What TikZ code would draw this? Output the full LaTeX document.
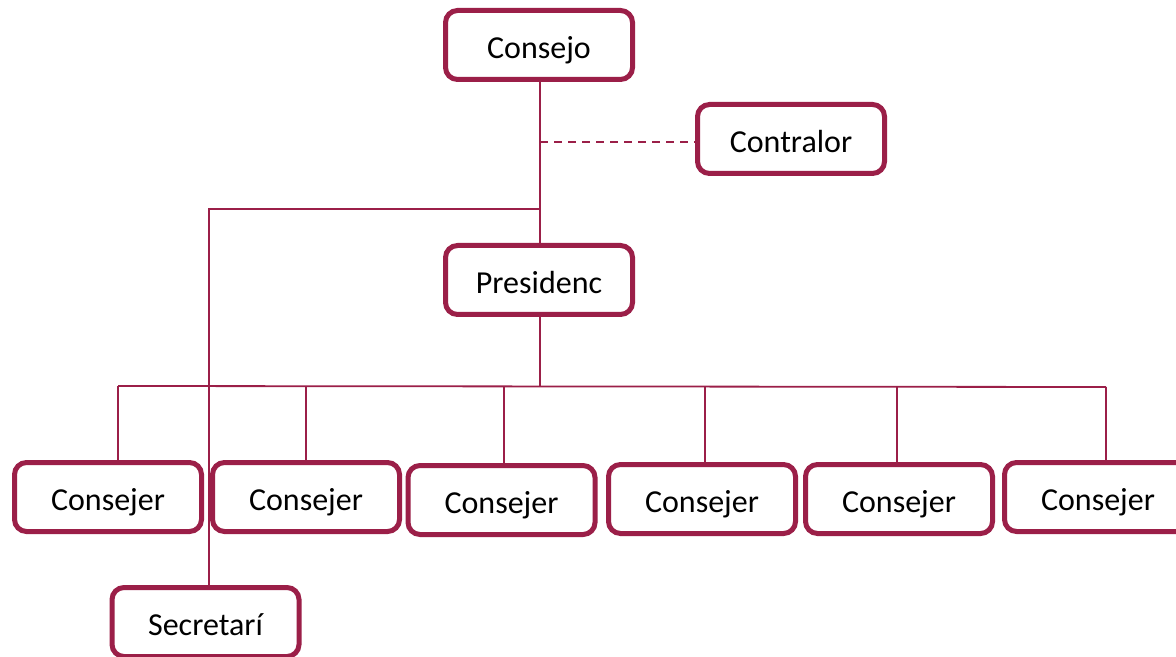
\documentclass[tikz,border=0pt]{standalone}
\usepackage{fontspec}
\setmainfont{Carlito}
\definecolor{maroon}{RGB}{155,31,72}
\begin{document}
\begin{tikzpicture}[x=0.5pt,y=-0.5pt,
  box/.style={draw=maroon, line width=2.5pt, rounded corners=6pt, fill=white,
    minimum width=93.5pt, minimum height=34.5pt, inner sep=0pt,
    text height=16pt, text depth=2.4pt,
    font=\fontsize{16pt}{19pt}\selectfont},
  link/.style={draw=maroon, line width=0.9pt},
  dotlink/.style={draw=maroon, line width=0.9pt, dash pattern=on 4pt off 3pt}]
\useasboundingbox (0,0) rectangle (1176,657);
\clip (0,0) rectangle (1176,657);

% top of the chart
\node[box] (consejo) at (539,45) {Consejo};
\node[box] (contralor) at (791,139) {Contralor};
\node[box] (presid) at (539,280) {Presidenc};

% councillors row
\node[box] (c1) at (108,497) {Consejer};
\node[box] (c2) at (306,497) {Consejer};
\node[box] (c3) at (501.5,500) {Consejer};
\node[box] (c4) at (702,499) {Consejer};
\node[box] (c5) at (899,499) {Consejer};
\node[box] (c6) at (1098,497) {Consejer};

% secretary
\node[box] (sec) at (205.5,622) {Secretarí};

% branch points
\coordinate (dashjoin) at (540,142);
\coordinate (secjoin) at (540,209);
\coordinate (seccorner) at (209,209);
\coordinate (busmid) at (540,386);
\coordinate (t1) at (118,386);
\coordinate (t2) at (306,386);
\coordinate (t3) at (504,386);
\coordinate (t4) at (705,386);
\coordinate (t5) at (897,386);
\coordinate (t6) at (1106,387);

% connectors
\draw[link] (consejo.south -| busmid) -- (presid.north -| busmid);
\draw[dotlink] (dashjoin) -- (contralor.west |- dashjoin);
\draw[link] (secjoin) -- (seccorner) -- (seccorner |- sec.north);
\draw[link] (presid.south -| busmid) -- (busmid);
\draw[link] (t1) -- (t6);
\draw[link] (t1) -- (t1 |- c1.north);
\draw[link] (t2) -- (t2 |- c2.north);
\draw[link] (t3) -- (t3 |- c3.north);
\draw[link] (t4) -- (t4 |- c4.north);
\draw[link] (t5) -- (t5 |- c5.north);
\draw[link] (t6) -- (t6 |- c6.north);
\end{tikzpicture}
\end{document}
